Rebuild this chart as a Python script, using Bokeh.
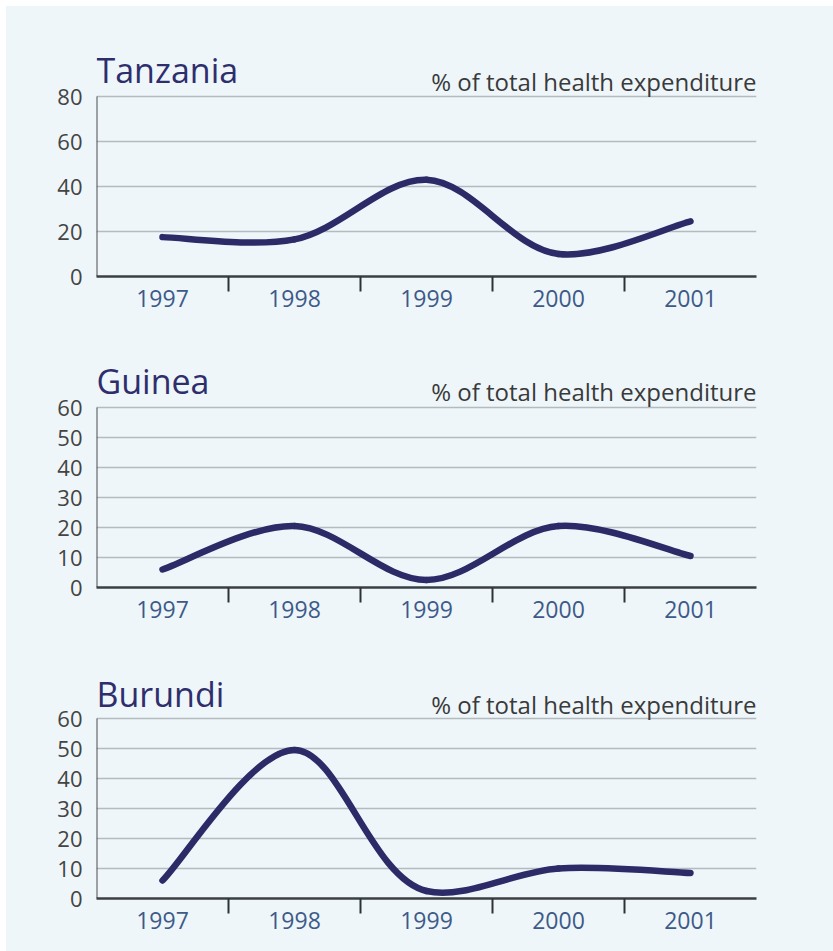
import numpy as np
from bokeh.plotting import figure
from bokeh.layouts import column
from bokeh.models import Range1d, FixedTicker, Label
from bokeh.embed import file_html
from bokeh.resources import INLINE

# ---- data ----
years = [1997, 1998, 1999, 2000, 2001]
countries = ["Tanzania", "Guinea", "Burundi"]
tanzania = [17.5, 16.5, 43.0, 10.0, 24.5]
guinea = [6.0, 20.5, 2.5, 20.5, 10.5]
burundi = [6.0, 49.5, 2.5, 10.0, 8.5]
series = [tanzania, guinea, burundi]
y_max = [80, 60, 60]
y_step = [20, 10, 10]
subtitle = "% of total health expenditure"

# ---- style / layout ----
FONT = "Open Sans"
BG = "#eef6fa"
LINE = "#2c2b68"
TITLE_C = "#2e2e6c"
FRAME_W = 660          # px of plotting width
DATA_H = 180           # px from 0 to y max
HEAD = 51              # px of frame above y max (holds the titles)
FIG_W = 827
fig_heights = [334, 311, 300]
border_top = [39, 16, 16]
title_lift = [27, 27, 25]      # px of title anchor above y max
sub_lift = [15, 16, 14]        # px of subtitle anchor above y max


def smooth_bezier(xs, ys, sx, sy, alpha=1.0):
    """Chordal Catmull-Rom through the points, as cubic Bezier segments."""
    P = np.column_stack([np.asarray(xs, float) * sx, np.asarray(ys, float) * sy])
    n = len(P)
    d = np.linalg.norm(np.diff(P, axis=0), axis=1) ** alpha
    m = np.zeros_like(P)
    m[0] = (P[1] - P[0]) / (2 * d[0])
    m[-1] = (P[-1] - P[-2]) / (2 * d[-1])
    for i in range(1, n - 1):
        m[i] = ((P[i] - P[i - 1]) / d[i - 1]
                - (P[i + 1] - P[i - 1]) / (d[i - 1] + d[i])
                + (P[i + 1] - P[i]) / d[i])
    c0 = P[:-1] + m[:-1] * d[:, None] / 3
    c1 = P[1:] - m[1:] * d[:, None] / 3
    return dict(x0=P[:-1, 0] / sx, y0=P[:-1, 1] / sy,
                x1=P[1:, 0] / sx, y1=P[1:, 1] / sy,
                cx0=c0[:, 0] / sx, cy0=c0[:, 1] / sy,
                cx1=c1[:, 0] / sx, cy1=c1[:, 1] / sy)


figs = []
for k, (name, vals, ymax, ystep) in enumerate(zip(countries, series, y_max, y_step)):
    y_top = ymax * (DATA_H + HEAD) / DATA_H
    unit = ymax / DATA_H   # data units per pixel
    h = fig_heights[k]
    p = figure(width=FIG_W, height=h, output_backend="svg", toolbar_location=None,
               x_range=Range1d(years[0] - 0.5, years[-1] + 0.5),
               y_range=Range1d(0, y_top),
               min_border_left=90, min_border_right=FIG_W - 90 - FRAME_W,
               min_border_top=border_top[k],
               min_border_bottom=h - border_top[k] - DATA_H - HEAD)
    p.background_fill_color = BG
    p.border_fill_color = BG
    p.outline_line_color = None

    yt = FixedTicker(ticks=list(range(0, ymax + 1, ystep)))
    p.yaxis.ticker = yt
    p.ygrid.ticker = yt
    p.ygrid.grid_line_color = "#b3bbbf"
    p.ygrid.grid_line_width = 1.5
    p.xgrid.visible = False

    xt = FixedTicker(ticks=years, minor_ticks=[y + 0.5 for y in years[:-1]])
    p.xaxis.ticker = xt
    p.xaxis.major_tick_out = 0
    p.xaxis.major_tick_in = 0
    p.xaxis.minor_tick_out = 15
    p.xaxis.minor_tick_in = 0
    p.xaxis.minor_tick_line_color = "#2e3236"
    p.xaxis.minor_tick_line_width = 2
    p.xaxis.axis_line_color = "#3a3f44"
    p.xaxis.axis_line_width = 2.5
    p.xaxis.major_label_text_color = "#3d5a88"
    p.xaxis.major_label_text_font = FONT
    p.xaxis.major_label_text_font_size = "23px"
    p.xaxis.major_label_standoff = -2

    # y axis line only from 0 to y max
    p.yaxis.axis_line_color = None
    p.yaxis.major_tick_out = 0
    p.yaxis.major_tick_in = 0
    p.yaxis.minor_tick_line_color = None
    p.yaxis.major_label_text_color = "#444444"
    p.yaxis.major_label_text_font = FONT
    p.yaxis.major_label_text_font_size = "22px"
    p.yaxis.major_label_standoff = 14
    p.segment(x0=[years[0] - 0.5], y0=[0], x1=[years[0] - 0.5], y1=[ymax],
              line_color="#4a4d50", line_width=2)

    b = smooth_bezier(years, vals, FRAME_W / len(years), DATA_H / ymax)
    p.bezier(**b, line_color=LINE, line_width=6.5, line_cap="round")

    p.add_layout(Label(x=years[0] - 0.5, y=ymax + title_lift[k] * unit,
                       text=name, text_font=FONT, text_font_size="34px",
                       text_color=TITLE_C, text_align="left",
                       text_baseline="alphabetic"))
    p.add_layout(Label(x=years[-1] + 0.5, y=ymax + sub_lift[k] * unit,
                       text=subtitle, text_font=FONT, text_font_size="24px",
                       text_color="#3a3a3a", text_align="right",
                       text_baseline="alphabetic"))
    figs.append(p)

layout = column(*figs, spacing=0, margin=(6, 0, 0, 6),
                styles={"background-color": BG})
open("out.html", "w").write(file_html(layout, INLINE))
